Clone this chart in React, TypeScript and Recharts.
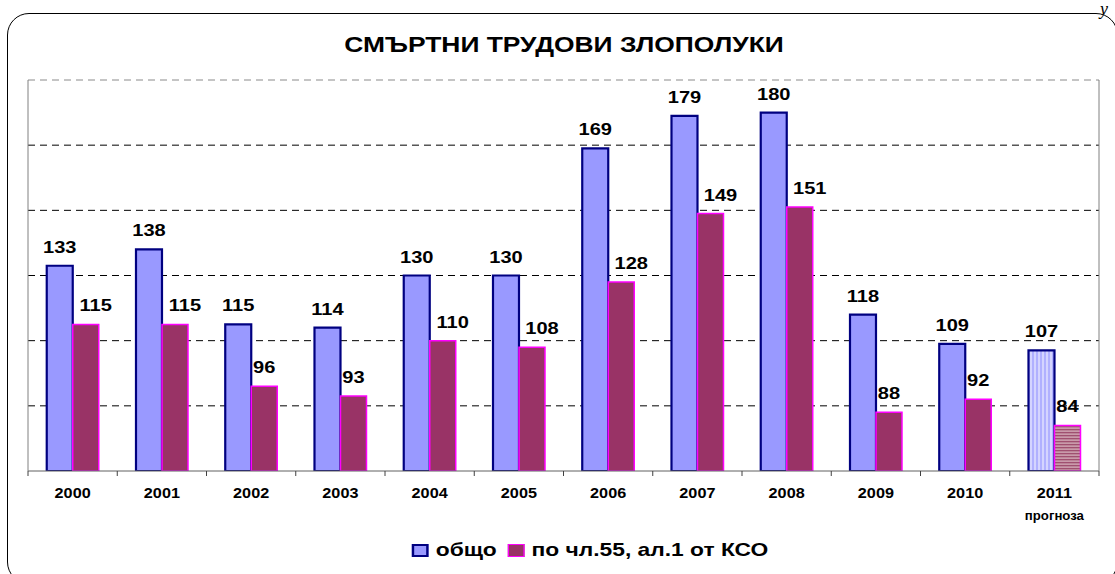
import React from 'react';
import { BarChart, Bar, XAxis, YAxis, ReferenceLine, Cell, LabelList } from 'recharts';

const years = ['2000', '2001', '2002', '2003', '2004', '2005', '2006', '2007', '2008', '2009', '2010', '2011'];
const subLabels = ['', '', '', '', '', '', '', '', '', '', '', 'прогноза'];
const total = [133, 138, 115, 114, 130, 130, 169, 179, 180, 118, 109, 107];
const art55 = [115, 115, 96, 93, 110, 108, 128, 149, 151, 88, 92, 84];
const forecast = [false, false, false, false, false, false, false, false, false, false, false, true];
const gridValues = [90, 110, 130, 150, 170];
const topValue = 190;
const yDomain = [70, 190];
const seriesNames = ['общо', 'по чл.55, ал.1 от КСО'];
const title = 'СМЪРТНИ ТРУДОВИ ЗЛОПОЛУКИ';

const data = years.map((y, i) => ({ year: y, sub: subLabels[i], total: total[i], art55: art55[i], forecast: forecast[i] }));

const FONT = '"Liberation Sans", Arial, sans-serif';

const XTick = (props: any) => {
  const { x, y, payload, index, visibleTicksCount } = props;
  const half = payload && payload.offset ? payload.offset : 44.6;
  const sub = subLabels[index] || '';
  return (
    <g>
      <line x1={x - half} x2={x - half} y1={y - 8} y2={y - 3} stroke="#404040" strokeWidth={1} />
      {index === visibleTicksCount - 1 && (
        <line x1={x + half} x2={x + half} y1={y - 8} y2={y - 3} stroke="#404040" strokeWidth={1} />
      )}
      <text transform={`translate(${x},${y + 19}) scale(1.08,1)`} textAnchor="middle" fontFamily={FONT} fontWeight="bold" fontSize={15} fill="#000">
        {payload.value}
      </text>
      {sub && (
        <text transform={`translate(${x},${y + 41}) scale(1.1,1)`} textAnchor="middle" fontFamily={FONT} fontWeight="bold" fontSize={12} fill="#000">
          {sub}
        </text>
      )}
    </g>
  );
};

const makeLabel = (shiftWide: number) => (props: any) => {
  const { x, y, width, value } = props;
  const dx = String(value).length >= 3 ? shiftWide : 0;
  return (
    <text transform={`translate(${x + width / 2 + dx},${y - 13}) scale(1.18,1)`} textAnchor="middle" fontFamily={FONT} fontWeight="bold" fontSize={17} fill="#000">
      {value}
    </text>
  );
};

export default function App() {
  return (
    <div style={{ position: 'absolute', left: 0, top: 0, width: 1115, height: 574, overflow: 'hidden', background: '#fff', fontFamily: FONT }}>
      <svg width={0} height={0} style={{ position: 'absolute' }}>
        <defs>
          <pattern id="patBlue" width={4} height={4} patternUnits="userSpaceOnUse">
            <rect width={4} height={4} fill="#d4d4ff" />
            <rect width={2} height={4} fill="#b0b0ff" />
          </pattern>
          <pattern id="patMag" width={4} height={3} patternUnits="userSpaceOnUse">
            <rect width={4} height={3} fill="#c99aaa" />
            <rect width={4} height={1.3} fill="#a05070" />
          </pattern>
        </defs>
      </svg>
      <div style={{ position: 'absolute', left: 7, top: 13, width: 1111, height: 571, border: '1.5px solid #000', borderRadius: 22, boxSizing: 'border-box' }} />
      <div style={{ position: 'absolute', left: 1100, top: 0, fontFamily: '"Liberation Serif", serif', fontStyle: 'italic', fontSize: 18, lineHeight: '18px' }}>у</div>
      <div style={{ position: 'absolute', left: 564, top: 32, transform: 'translateX(-50%) scaleX(1.2)', whiteSpace: 'nowrap', fontWeight: 'bold', fontSize: 22, color: '#000' }}>
        {title}
      </div>
      <div style={{ position: 'absolute', left: 0, top: 0 }}>
        <BarChart width={1115} height={574} data={data} margin={{ top: 80, right: 15, left: 27, bottom: 53 }} barCategoryGap="21%" barGap={0}>
          <XAxis dataKey="year" height={50} tickLine={false} axisLine={{ stroke: '#606060', strokeWidth: 1 }} tick={<XTick />} interval={0} />
          <YAxis domain={yDomain} ticks={gridValues} width={1} tick={false} tickLine={false} axisLine={{ stroke: '#808080' }} allowDataOverflow />
          <YAxis yAxisId="right" orientation="right" domain={yDomain} ticks={gridValues} width={1} tick={false} tickLine={false} axisLine={{ stroke: '#808080' }} allowDataOverflow />
          {gridValues.map((v) => (
            <ReferenceLine key={'g' + v} y={v} stroke="#000" strokeDasharray="7 5" zIndex={-50} />
          ))}
          <ReferenceLine y={topValue} stroke="#8a8a8a" strokeDasharray="7 5" zIndex={-50} ifOverflow="visible" />
          <Bar dataKey="total" name={seriesNames[0]} fill="#9999ff" stroke="#000080" strokeWidth={2.2} isAnimationActive={false}>
            {data.map((d, i) => (
              <Cell key={'t' + i} fill={d.forecast ? 'url(#patBlue)' : '#9999ff'} />
            ))}
            <LabelList dataKey="total" content={makeLabel(0)} />
          </Bar>
          <Bar dataKey="art55" name={seriesNames[1]} fill="#993366" stroke="#ff00ff" strokeWidth={1.5} isAnimationActive={false}>
            {data.map((d, i) => (
              <Cell key={'a' + i} fill={d.forecast ? 'url(#patMag)' : '#993366'} />
            ))}
            <LabelList dataKey="art55" content={makeLabel(10)} />
          </Bar>
        </BarChart>
      </div>
      <div style={{ position: 'absolute', left: 590, top: 539, transform: 'translateX(-50%) scaleX(1.2)', display: 'flex', alignItems: 'center', whiteSpace: 'nowrap', fontWeight: 'bold', fontSize: 19, color: '#000' }}>
        <span style={{ display: 'inline-block', width: 14, height: 13, background: '#9999ff', border: '2px solid #000080', boxSizing: 'border-box', marginRight: 6 }} />
        <span style={{ marginRight: 9 }}>{seriesNames[0]}</span>
        <span style={{ display: 'inline-block', width: 14, height: 13, background: '#993366', border: '1.5px solid #ff00ff', boxSizing: 'border-box', marginRight: 6 }} />
        <span>{seriesNames[1]}</span>
      </div>
    </div>
  );
}
